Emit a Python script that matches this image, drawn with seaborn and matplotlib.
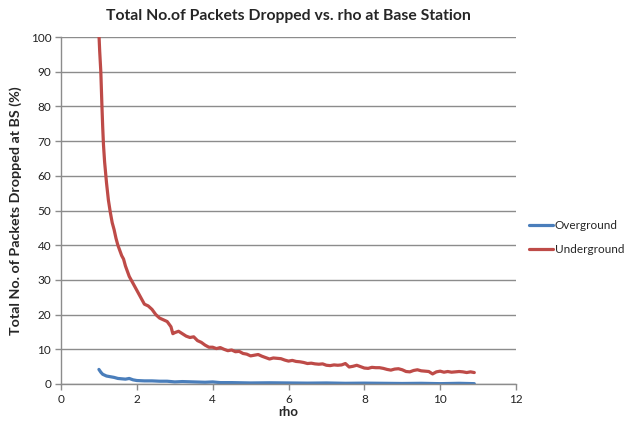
import matplotlib
matplotlib.use("Agg")
import matplotlib.pyplot as plt
import seaborn as sns
import pandas as pd

# --- data ---
rho_under = [1.00, 1.02, 1.05, 1.08, 1.10, 1.12, 1.15, 1.20, 1.25, 1.30, 1.35, 1.40, 1.45,
             1.50, 1.55, 1.60, 1.65, 1.70, 1.75, 1.80, 1.85, 1.90, 2.00, 2.10, 2.20, 2.30,
             2.40, 2.50, 2.60, 2.70, 2.80, 2.90, 2.95, 3.00, 3.10, 3.20, 3.30, 3.40, 3.50,
             3.60, 3.70, 3.80, 3.90, 4.00, 4.10, 4.20, 4.30, 4.40, 4.50, 4.60, 4.70, 4.80,
             4.90, 5.00, 5.10, 5.20, 5.30, 5.40, 5.50, 5.60, 5.70, 5.80, 5.90, 6.00, 6.10,
             6.20, 6.30, 6.40, 6.50, 6.60, 6.70, 6.80, 6.90, 7.00, 7.10, 7.20, 7.30, 7.40,
             7.50, 7.60, 7.70, 7.80, 7.90, 8.00, 8.10, 8.20, 8.30, 8.40, 8.50, 8.60, 8.70,
             8.80, 8.90, 9.00, 9.10, 9.20, 9.30, 9.40, 9.50, 9.60, 9.70, 9.80, 9.90, 10.00,
             10.10, 10.20, 10.30, 10.40, 10.50, 10.60, 10.70, 10.80, 10.90]
underground = [101, 96, 90, 80, 74, 69, 64, 58, 53, 49.5, 46.5, 44.5, 42,
               40, 38.5, 37, 36, 34, 32.5, 31, 30, 29, 27, 25, 23, 22.5,
               21.5, 20, 19, 18.5, 18, 16.5, 14.5, 14.8, 15.2, 14.5, 13.8, 13.4, 13.6,
               12.5, 12.0, 11.2, 10.6, 10.6, 10.2, 10.5, 10.0, 9.6, 9.8, 9.3, 9.4, 8.8,
               8.6, 8.1, 8.3, 8.5, 8.0, 7.6, 7.2, 7.5, 7.4, 7.3, 6.9, 6.6, 6.8,
               6.5, 6.4, 6.2, 5.9, 6.0, 5.8, 5.7, 5.8, 5.4, 5.3, 5.5, 5.4, 5.5,
               5.9, 4.9, 5.1, 5.4, 5.0, 4.6, 4.5, 4.8, 4.7, 4.7, 4.5, 4.2, 4.0,
               4.3, 4.4, 4.1, 3.6, 3.5, 3.9, 4.1, 3.8, 3.7, 3.6, 2.9, 3.5, 3.7,
               3.4, 3.6, 3.4, 3.5, 3.6, 3.5, 3.3, 3.5, 3.3]

rho_over = [1.00, 1.05, 1.10, 1.20, 1.30, 1.40, 1.50, 1.60, 1.70, 1.80, 1.90, 2.00, 2.20,
            2.40, 2.60, 2.80, 3.00, 3.20, 3.50, 3.80, 4.00, 4.20, 4.50, 5.00, 5.50, 6.00,
            6.50, 7.00, 7.50, 8.00, 8.50, 9.00, 9.50, 10.00, 10.50, 10.90]
overground = [4.2, 3.4, 2.8, 2.3, 2.1, 1.9, 1.6, 1.5, 1.4, 1.6, 1.2, 1.0, 0.9,
              0.9, 0.8, 0.8, 0.6, 0.7, 0.6, 0.5, 0.6, 0.4, 0.4, 0.3, 0.35, 0.3,
              0.25, 0.3, 0.2, 0.25, 0.2, 0.15, 0.2, 0.1, 0.2, 0.1]

series_names = ["Overground", "Underground"]
x_ticks = [0, 2, 4, 6, 8, 10, 12]
y_ticks = [0, 10, 20, 30, 40, 50, 60, 70, 80, 90, 100]

df = pd.concat([
    pd.DataFrame({"rho": rho_over, "value": overground, "series": series_names[0]}),
    pd.DataFrame({"rho": rho_under, "value": underground, "series": series_names[1]}),
])

sns.set_theme(style="white")
plt.rcParams["font.family"] = ["Lato", "DejaVu Sans"]

fig = plt.figure(figsize=(6.3, 4.28), dpi=100)
ax = fig.add_axes([61 / 630, 1 - 384 / 428, (516 - 61) / 630, (384 - 37) / 428])

palette = {"Overground": "#4A7EBB", "Underground": "#BE4B48"}
sns.lineplot(data=df, x="rho", y="value", hue="series", palette=palette,
             linewidth=2.3, ax=ax, estimator=None, sort=False)

ax.set_xlim(0, 12)
ax.set_ylim(0, 100)
ax.set_xticks(x_ticks)
ax.set_yticks(y_ticks)
ax.yaxis.grid(True, color="#8C8C8C", linewidth=1.0)
ax.set_axisbelow(True)
for s in ["top", "right"]:
    ax.spines[s].set_visible(False)
for s in ["left", "bottom"]:
    ax.spines[s].set_color("#8C8C8C")
    ax.spines[s].set_linewidth(1.0)
ax.tick_params(axis="both", which="major", direction="out", length=4, width=1,
               color="#8C8C8C", labelsize=8.5, labelcolor="#222222", pad=3)
ax.tick_params(axis="x", bottom=True)
ax.tick_params(axis="y", left=True)

ax.set_xlabel("rho", fontsize=9.5, fontweight="bold", labelpad=1)
ax.set_ylabel("Total No. of Packets Dropped at BS (%)", fontsize=10.3,
              fontweight="bold", labelpad=6)
fig.text(0.458, 1 - 16 / 428, "Total No.of Packets Dropped vs. rho at Base Station",
         ha="center", va="center", fontsize=11.3, fontweight="bold")

handles, labels = ax.get_legend_handles_labels()
ax.legend(handles, labels, loc="center left", bbox_to_anchor=(0.839, 1 - 237.5 / 428),
          bbox_transform=fig.transFigure, frameon=False, fontsize=8.5,
          handlelength=2.1, handletextpad=0.1, labelspacing=1.15, borderpad=0,
          borderaxespad=0)

fig.savefig("out.png", dpi=100)
